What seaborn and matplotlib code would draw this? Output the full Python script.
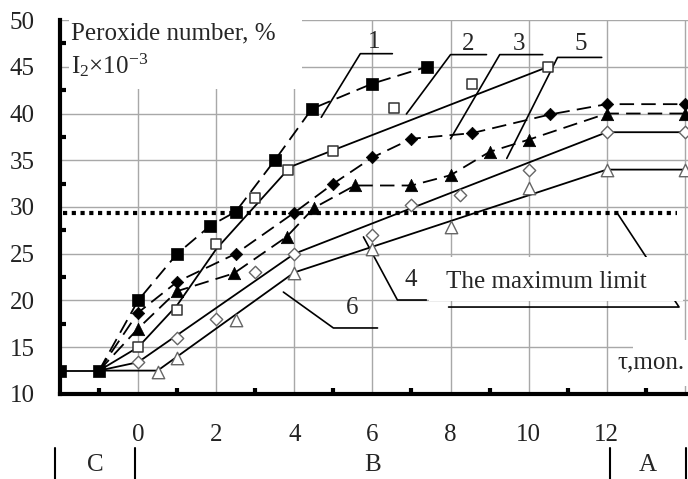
import matplotlib
matplotlib.use("Agg")
import matplotlib.pyplot as plt
import seaborn as sns
from matplotlib.patches import Rectangle

# ---------- data ----------
# common starting points (stage C)
start_x = [-2, -1]
start_y = [12.5, 12.5]

# curve 1 - filled squares, dashed
c1_x = [0, 1, 1.85, 2.5, 3.5, 4.45, 6, 7.4]
c1_y = [20, 25, 28, 29.5, 35, 40.5, 43.2, 45]
# curve 2 - open squares, solid
c2_x = [0, 1, 2, 3, 3.85, 5, 6.55, 8.55, 10.5]
c2_y = [15, 19, 26, 31, 34, 36, 40.6, 43.2, 45]
# curve 3 - filled diamonds, dashed
c3_x = [0, 1, 2.5, 4, 5, 6, 7, 8.55, 10.55, 12, 14]
c3_y = [18.7, 22, 25, 29.4, 32.5, 35.3, 37.3, 37.9, 39.9, 41, 41]
# curve 4 - open diamonds, solid
c4_x = [0, 1, 2, 3, 4, 6, 7, 8.25, 10, 12, 14]
c4_y = [13.4, 16, 18, 23, 25, 27, 30.2, 31.3, 34, 38, 38]
# curve 5 - filled triangles, dashed
c5_x = [0, 1, 2.45, 3.8, 4.5, 5.55, 7, 8, 9, 10, 12, 14]
c5_y = [17, 21, 22.9, 26.8, 29.9, 32.3, 32.3, 33.4, 35.9, 37.2, 40, 40]
# curve 6 - open triangles, solid
c6_x = [0.5, 1, 2.5, 4, 6, 8, 10, 12, 14]
c6_y = [12.4, 13.8, 17.9, 22.9, 25.5, 27.9, 32, 34, 34]

# solid trend lines (vertices)
t2_x = [-1, 0, 1, 2, 3.9, 10.5]
t2_y = [12.5, 15, 19.5, 25.5, 34.3, 45]
t4_x = [-1, 0, 4, 12, 14]
t4_y = [12.5, 13.4, 25, 38, 38]
t6_x = [-1, 0.5, 4, 12, 14]
t6_y = [12.5, 12.5, 23, 34, 34]

max_limit = 29.4

# curve number labels and their leader lines
curve_labels = ["1", "2", "3", "5", "4", "6"]
label_x = [6.05, 8.46, 9.74, 11.33, 6.99, 5.49]
label_y = [47.6, 47.4, 47.4, 47.4, 22.2, 19.2]
leader_x = [[4.69, 5.69, 6.51], [6.87, 8.0, 8.92], [8.0, 9.26, 10.36],
            [9.44, 10.74, 11.87], [5.77, 6.64, 7.38], [3.72, 5.0, 6.13]]
leader_y = [[39.6, 46.4, 46.4], [39.95, 46.3, 46.3], [37.3, 46.3, 46.3],
            [35.2, 46.0, 46.0], [26.8, 20.05, 20.05], [20.9, 17.06, 17.06]]
limit_leader_x = [12.26, 13.85, 7.95]
limit_leader_y = [29.4, 19.3, 19.3]

# storage stages under the time axis
stage_bounds = [-2.12, -0.08, 12.08, 14.03]
stage_names = ["C", "B", "A"]
stage_centers = [-1.1, 6.0, 13.05]

x_major = list(range(-2, 15, 2))
x_labels = ["" if v in (-2, 14) else str(v) for v in x_major]
y_major = list(range(10, 51, 5))

# ---------- style ----------
sns.set_theme(style="white")
plt.rcParams["font.family"] = ["Liberation Serif", "DejaVu Serif"]
plt.rcParams["mathtext.fontset"] = "custom"
plt.rcParams["mathtext.rm"] = "Liberation Serif"
plt.rcParams["mathtext.it"] = "Liberation Serif"
FS = 18

fig = plt.figure(figsize=(6.88, 4.79), dpi=100)
ax = fig.add_axes([0.0872, 0.1775, 0.9128, 0.7807])
ax.set_xlim(-2, 14.08)
ax.set_ylim(10, 50)

ax.set_axisbelow(True)
ax.grid(True, color="#a8a8a8", linewidth=1.0)
for side in ["top", "right"]:
    ax.spines[side].set_visible(False)
for side in ["left", "bottom"]:
    ax.spines[side].set_linewidth(3)
    ax.spines[side].set_color("black")

ax.set_xticks(x_major)
ax.set_xticklabels(x_labels)
ax.set_xticks(range(-1, 15, 2), minor=True)
ax.set_yticks(y_major)
ax.set_yticks([v + 2.5 for v in y_major[:-1]], minor=True)
ax.tick_params(which="major", direction="inout", width=3, color="black",
               labelsize=FS, labelcolor="#222222")
ax.tick_params(axis="y", which="major", length=12, pad=12)
ax.tick_params(axis="x", which="major", length=11, pad=16)
ax.tick_params(which="minor", direction="in", length=4, width=3, color="black",
               bottom=True, left=True)
ax.set_xlabel("")
ax.set_ylabel("")

# white boxes behind the texts (hide grid)
ax.add_patch(Rectangle((-1.76, 42.6), 5.96, 8.0, facecolor="white",
                       edgecolor="none", zorder=1, clip_on=False))
ax.add_patch(Rectangle((7.45, 19.9), 6.5, 4.75, facecolor="white",
                       edgecolor="none", zorder=1.6))
ax.add_patch(Rectangle((12.67, 10.9), 1.6, 4.9, facecolor="white",
                       edgecolor="none", zorder=1, clip_on=False))

# maximum limit
ax.axhline(max_limit, xmin=0.005, xmax=0.982, color="black", linewidth=3,
           linestyle=(0, (1, 1.1)), zorder=1.5)

# ---------- curves ----------
dash = (0, (8, 4))
line_kw = dict(ax=ax, color="black", linewidth=1.3, sort=False,
               estimator=None, zorder=2)
sns.lineplot(x=start_x, y=start_y, linestyle="-", **line_kw)
for cx, cy in [(c1_x, c1_y), (c3_x, c3_y), (c5_x, c5_y)]:
    sns.lineplot(x=start_x[1:] + cx, y=start_y[1:] + cy, linestyle=dash, **line_kw)
for tx, ty in [(t2_x, t2_y), (t4_x, t4_y), (t6_x, t6_y)]:
    sns.lineplot(x=tx, y=ty, linestyle="-", **line_kw)

sns.scatterplot(x=start_x, y=start_y, marker="s", s=85, color="black",
                edgecolor="black", linewidth=0.5, zorder=4, ax=ax)
sns.scatterplot(x=c1_x, y=c1_y, marker="s", s=85, color="black",
                edgecolor="black", linewidth=0.5, zorder=4, ax=ax)
sns.scatterplot(x=c2_x, y=c2_y, marker="s", s=62, color="white",
                edgecolor="#333333", linewidth=1.1, zorder=4, ax=ax)
sns.scatterplot(x=c3_x, y=c3_y, marker="D", s=40, color="black",
                edgecolor="black", linewidth=0.5, zorder=4, ax=ax)
sns.scatterplot(x=c4_x, y=c4_y, marker="D", s=40, color="white",
                edgecolor="#666666", linewidth=1.0, zorder=4, ax=ax)
sns.scatterplot(x=c5_x, y=c5_y, marker="^", s=80, color="black",
                edgecolor="black", linewidth=0.5, zorder=4, ax=ax)
sns.scatterplot(x=c6_x, y=c6_y, marker="^", s=80, color="white",
                edgecolor="#666666", linewidth=1.0, zorder=4, ax=ax)

# ---------- labels and leaders ----------
for lab, lx, ly, px, py in zip(curve_labels, label_x, label_y, leader_x, leader_y):
    ax.plot(px, py, color="black", linewidth=1.2, zorder=3)
    ax.text(lx, ly, lab, fontsize=FS, ha="center", va="center", zorder=5)
ax.plot(limit_leader_x, limit_leader_y, color="black", linewidth=1.2, zorder=1.55,
        clip_on=False)
ax.text(10.46, 22.0, "The maximum limit", fontsize=FS, ha="center", va="center",
        zorder=5)

ax.text(-1.72, 48.6, "Peroxide number, %", fontsize=FS, ha="left", va="center",
        zorder=5)
ax.text(-1.72, 45.2, r"I$_2$×10$^{-3}$", fontsize=FS, ha="left", va="center",
        zorder=5)
ax.text(14.0, 13.4, "τ,mon.", fontsize=FS, ha="right", va="center", zorder=5)

trans = ax.get_xaxis_transform()
for b in stage_bounds:
    ax.plot([b, b], [-0.145, -0.23], color="black", linewidth=1.5,
            transform=trans, clip_on=False)
for name, cx in zip(stage_names, stage_centers):
    ax.text(cx, -0.19, name, fontsize=FS, ha="center", va="center",
            transform=trans)

fig.savefig("out.png", dpi=100)
